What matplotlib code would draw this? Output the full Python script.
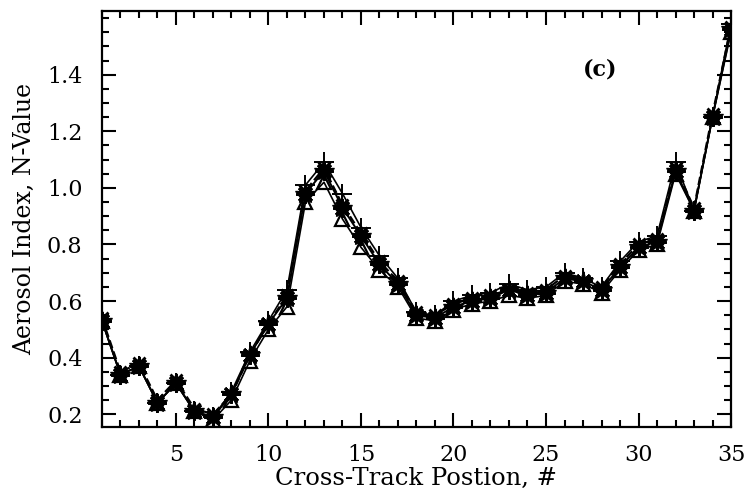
import matplotlib
matplotlib.use("Agg")
import matplotlib.pyplot as plt
from matplotlib.ticker import MultipleLocator

# Cross-track positions
position = list(range(1, 36))

# Aerosol index per retrieval variant
ai_star = [0.53, 0.34, 0.37, 0.24, 0.31, 0.21, 0.19, 0.27, 0.41, 0.52,
           0.61, 0.98, 1.06, 0.93, 0.83, 0.73, 0.66, 0.55, 0.54, 0.58,
           0.60, 0.61, 0.64, 0.62, 0.63, 0.68, 0.67, 0.64, 0.72, 0.79,
           0.81, 1.06, 0.92, 1.25, 1.56]
ai_plus = [0.53, 0.34, 0.37, 0.24, 0.31, 0.21, 0.19, 0.28, 0.42, 0.53,
           0.64, 1.01, 1.09, 0.98, 0.86, 0.76, 0.68, 0.56, 0.55, 0.60,
           0.62, 0.63, 0.66, 0.64, 0.65, 0.70, 0.68, 0.65, 0.74, 0.81,
           0.83, 1.09, 0.92, 1.25, 1.58]
ai_tri = [0.53, 0.34, 0.37, 0.24, 0.31, 0.21, 0.18, 0.25, 0.39, 0.50,
          0.58, 0.95, 1.02, 0.89, 0.79, 0.71, 0.65, 0.54, 0.53, 0.57,
          0.59, 0.60, 0.62, 0.61, 0.62, 0.67, 0.66, 0.63, 0.71, 0.78,
          0.80, 1.05, 0.92, 1.25, 1.55]
ai_x = [0.54, 0.35, 0.38, 0.25, 0.32, 0.22, 0.20, 0.27, 0.41, 0.52,
        0.62, 0.99, 1.07, 0.94, 0.84, 0.74, 0.67, 0.56, 0.55, 0.59,
        0.61, 0.62, 0.64, 0.63, 0.64, 0.69, 0.67, 0.65, 0.73, 0.80,
        0.82, 1.07, 0.93, 1.26, 1.57]

xticks = [5, 10, 15, 20, 25, 30, 35]
yticks = [0.2, 0.4, 0.6, 0.8, 1.0, 1.2, 1.4]

plt.rcParams['font.family'] = ['DejaVu Serif']

fig = plt.figure(figsize=(7.47, 4.94), dpi=100)
ax = fig.add_axes([0.1365, 0.1356, 0.8421, 0.8421])

ax.plot(position, ai_x, color='black', lw=1.6, ls='--', marker='x',
        ms=9, mew=2.0)
ax.plot(position, ai_plus, color='black', lw=1.2, marker='+',
        ms=14, mew=1.4)
ax.plot(position, ai_tri, color='black', lw=1.2, marker='^',
        ms=10, mfc='none', mew=1.6)
ax.plot(position, ai_star, color='black', lw=1.4, marker='*',
        ms=15, mew=1.0)
ax.plot(position, ai_star, color='black', lw=0, marker=(8, 2, 0),
        ms=13, mew=2.0)

ax.set_xlim(1, 35)
ax.set_ylim(0.155, 1.625)
ax.set_xticks(xticks)
ax.set_yticks(yticks)
ax.set_yticklabels([f"{v:.1f}" for v in yticks])
ax.xaxis.set_minor_locator(MultipleLocator(1))
ax.yaxis.set_minor_locator(MultipleLocator(0.05))
ax.tick_params(which='both', direction='in', top=True, right=True,
               width=1.5, labelsize=16, colors='black')
ax.tick_params(which='major', length=10)
ax.tick_params(which='minor', length=5)
ax.tick_params(axis='x', pad=12)
ax.tick_params(axis='y', pad=14)
for sp in ax.spines.values():
    sp.set_linewidth(1.6)

ax.set_xlabel("Cross-Track Postion, #", fontsize=17.5, labelpad=1)
ax.set_ylabel("Aerosol Index, N-Value", fontsize=17, labelpad=8)
ax.text(27.9, 1.417, "(c)", fontsize=16, fontweight='semibold',
        ha='center', va='center')

fig.savefig("out.png", dpi=100)
